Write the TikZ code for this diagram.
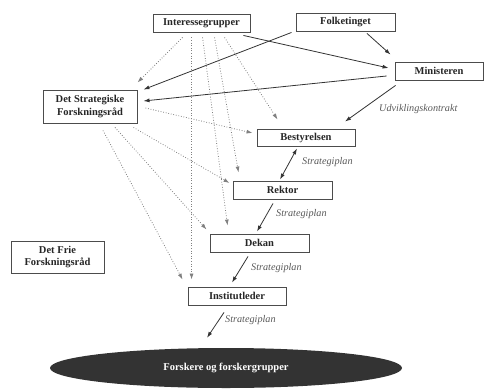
\documentclass[tikz,border=0pt]{standalone}
\usepackage{fontspec}
\setmainfont{Liberation Serif}
\usetikzlibrary{arrows.meta,calc,shapes.geometric}
\begin{document}
\begin{tikzpicture}[x=1pt,y=-1pt,
 box/.style={draw=black!70,line width=0.9pt,fill=white,inner sep=0pt,minimum height=18pt,font=\fontsize{10.5}{12.5}\selectfont\bfseries,align=center,text=black!85},
 tip/.tip={Latex[length=6pt,width=4pt]},
 arr/.style={draw=black!80,line width=0.8pt,-tip},
 dotarr/.style={draw=black!50,line width=0.8pt,dash pattern=on 0.8pt off 1.8pt,-tip},
 lbl/.style={font=\fontsize{10.2}{12}\selectfont\itshape,text=black!65,inner sep=0pt}]
\useasboundingbox (0,0) rectangle (484,388);

% nodes
\node[box,minimum width=97pt] (inter) at (201.5,23) {Interessegrupper};
\node[box,minimum width=99pt] (folk) at (345.5,22) {Folketinget};
\node[box,minimum width=88pt] (mini) at (439,71) {Ministeren};
\node[box,minimum width=94pt,minimum height=33pt] (dsf) at (90,106.5) {Det Strategiske\\Forskningsråd};
\node[box,minimum width=98pt,minimum height=17pt] (best) at (306,137.5) {Bestyrelsen};
\node[box,minimum width=99pt] (rekt) at (282.5,190) {Rektor};
\node[box,minimum width=99pt] (dekan) at (259.5,243) {Dekan};
\node[box,minimum width=98pt] (inst) at (237,296) {Institutleder};
\node[box,minimum width=93pt,minimum height=32pt] (dff) at (57.5,257) {Det Frie\\Forskningsråd};
\node[ellipse,fill=black!80,minimum width=352pt,minimum height=40pt,inner sep=0pt,text=white,font=\fontsize{10.5}{12}\selectfont\bfseries] (ell) at (226,368) {Forskere og forskergrupper};

% solid arrows
\draw[arr] ($(inter.south east)+(-7,3)$) -- ($(mini.west)+(-6,-3)$);
\draw[arr] ($(folk.south)+(21.5,2)$) -- ($(mini.north west)+(-4,-7)$);
\draw[arr] ($(folk.south west)+(-4,1)$) -- ($(dsf.north east)+(6,0)$);
\draw[arr] ($(mini.west)+(-8,5)$) -- ($(dsf.east)+(6,-5.5)$);
\draw[arr] ($(mini.south west)+(1,5)$) -- ($(best.north)+(39,-7)$);
\node[lbl,anchor=west] (udv) at (379,109) {Udviklingskontrakt};
\draw[draw=black!80,line width=0.8pt,tip-tip] ($(best.south)+(-9,2)$) -- ($(rekt.north)+(-2.5,-1)$);
\node[lbl,anchor=west] (s1) at (302,162) {Strategiplan};
\draw[arr] ($(rekt.south)+(-9.5,4)$) -- ($(dekan.north)+(-2.5,-2)$);
\node[lbl,anchor=west] (s2) at (276,214) {Strategiplan};
\draw[arr] ($(dekan.south)+(-11.5,4)$) -- ($(inst.north)+(-5,-4)$);
\node[lbl,anchor=west] (s3) at (251,268) {Strategiplan};
\draw[arr] ($(inst.south)+(-13,7)$) -- ($(ell.north)+(-19,-10)$);
\node[lbl,anchor=west] (s4) at (225,320) {Strategiplan};

% dotted arrows from Interessegrupper
\draw[dotarr] ($(inter.south west)+(30,5)$) -- ($(dsf.north east)+(0,-7)$);
\draw[dotarr] ($(inter.south west)+(39,5)$) -- ($(inst.north west)+(4,-7)$);
\draw[dotarr] ($(inter.south west)+(50,5)$) -- ($(dekan.north west)+(18,-8)$);
\draw[dotarr] ($(inter.south west)+(62,5)$) -- ($(rekt.north west)+(6,-8)$);
\draw[dotarr] ($(inter.south west)+(72,5)$) -- ($(best.north west)+(21,-9)$);
% dotted arrows from Det Strategiske Forskningsraad
\draw[dotarr] ($(dsf.east)+(8,1.5)$) -- ($(best.west)+(-4,-4.5)$);
\draw[dotarr] ($(dsf.south east)+(-4,4)$) -- ($(rekt.west)+(-3,-7)$);
\draw[dotarr] ($(dsf.south)+(25,4)$) -- ($(dekan.north west)+(-3,-4)$);
\draw[dotarr] ($(dsf.south)+(13,7)$) -- ($(inst.north west)+(-5,-7)$);
\end{tikzpicture}
\end{document}
